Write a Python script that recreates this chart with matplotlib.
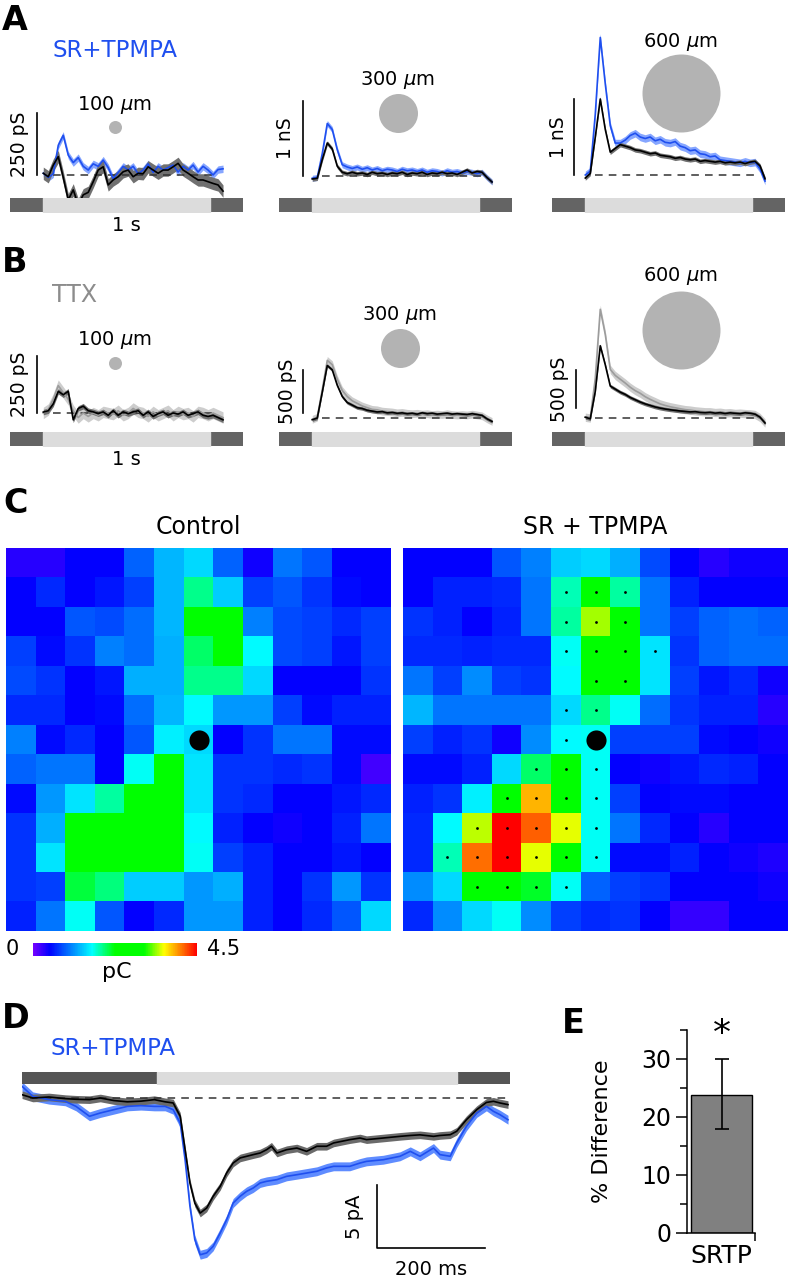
import numpy as np
import matplotlib
matplotlib.use("Agg")
import matplotlib.pyplot as plt
from matplotlib.colors import LinearSegmentedColormap

plt.rcParams["font.family"] = ["DejaVu Sans"]
plt.rcParams["mathtext.fontset"] = "dejavusans"

# ---------------- data ----------------
# conductance traces, sampled every 30 ms from light onset (s)
t_cond = np.arange(0, 1.081, 0.03)

# A: control (black) vs SR+TPMPA (blue)
a100_ctrl = [7, -7, 40, 74, -10, -100, -60, -120, -80, -70, -27, 20, 33, -40, -20,
             -7, 13, 20, -7, 7, 5, 33, 20, 7, 20, 20, 33, 47, 20, 7, -7, -20, -20,
             -27, -34, -40, -65]  # pS
a100_srtp = [7, -10, 5, 120, 160, 80, 50, 70, 35, 20, 45, 35, 60, 30, -15, 10, 35,
             20, 35, 5, 20, 45, 10, 35, 20, 30, 40, 12, 35, 20, 40, 12, 35, 20, 0,
             22, 25]  # pS
a300_ctrl = [-0.04, -0.03, 0.22, 0.44, 0.36, 0.13, 0.05, 0.03, 0.05, 0.03, 0.04,
             0.02, 0.05, 0.03, 0.04, 0.02, 0.04, 0.03, 0.05, 0.02, 0.04, 0.03, 0.05,
             0.02, 0.04, 0.03, 0.05, 0.03, 0.04, 0.02, 0.05, 0.08, 0.04, 0.06, 0.05,
             -0.02, -0.08]  # nS
a300_srtp = [-0.03, -0.02, 0.30, 0.70, 0.62, 0.35, 0.15, 0.12, 0.10, 0.12, 0.09,
             0.11, 0.08, 0.10, 0.07, 0.09, 0.08, 0.06, 0.09, 0.07, 0.08, 0.06, 0.08,
             0.05, 0.07, 0.06, 0.04, 0.07, 0.05, 0.06, 0.04, 0.06, 0.05, 0.03, 0.05,
             -0.02, -0.08]  # nS
a600_ctrl = [-0.04, 0.02, 0.50, 1.00, 0.60, 0.30, 0.35, 0.40, 0.38, 0.36, 0.33,
             0.32, 0.30, 0.28, 0.29, 0.26, 0.25, 0.24, 0.22, 0.23, 0.21, 0.20, 0.21,
             0.18, 0.19, 0.18, 0.17, 0.18, 0.16, 0.17, 0.16, 0.17, 0.15, 0.17, 0.18,
             0.12, -0.05]  # nS
a600_srtp = [0.00, 0.05, 0.80, 1.81, 1.20, 0.65, 0.42, 0.42, 0.46, 0.52, 0.55,
             0.50, 0.48, 0.50, 0.45, 0.47, 0.43, 0.42, 0.44, 0.38, 0.36, 0.32, 0.33,
             0.28, 0.27, 0.24, 0.25, 0.20, 0.19, 0.18, 0.17, 0.16, 0.18, 0.16, 0.17,
             0.08, -0.08]  # nS

# B: control (black) vs TTX (grey), pS
b100_ctrl = [4, 10, 40, 95, 80, 95, -30, 20, 30, 10, 5, -3, 5, -10, 10, -10, 5, -3,
             5, 10, -10, 5, -15, -3, 5, -10, 0, -5, 5, -10, -3, 5, -10, -15, -10,
             -20, -30]
b100_ttx = [0, 15, 60, 120, 90, 60, 10, -20, 0, -15, 0, -10, 5, 0, -5, 10, -10, 0,
            20, 5, 0, -15, 5, -10, 0, 10, -10, 5, -5, 0, -15, 5, 0, -10, 0, -10, -20]
b300_ctrl = [-20, 0, 300, 610, 560, 380, 250, 180, 150, 120, 110, 90, 80, 70, 75,
             60, 65, 55, 60, 50, 55, 45, 60, 50, 55, 45, 50, 55, 45, 50, 45, 40, 50,
             40, 30, -10, -40]
b300_ttx = [-15, 10, 330, 670, 620, 450, 320, 250, 200, 170, 140, 120, 100, 95, 80,
            75, 70, 60, 65, 55, 50, 55, 45, 50, 40, 45, 40, 50, 40, 35, 40, 35, 45,
            35, 25, -10, -40]
b600_ctrl = [10, -10, 350, 950, 700, 420, 380, 340, 310, 270, 240, 210, 185, 165,
             145, 130, 118, 108, 100, 92, 86, 80, 84, 74, 70, 75, 64, 70, 60, 68, 62,
             58, 68, 62, 50, 10, -66]
b600_ttx = [10, 0, 520, 1430, 1100, 640, 560, 510, 460, 405, 360, 325, 280, 245,
            215, 185, 165, 148, 135, 122, 110, 104, 94, 88, 82, 82, 72, 76, 66, 70,
            60, 64, 58, 54, 46, 6, -66]

spot_um = [100, 300, 600]

# C: charge maps (pC), 13 x 13 grid, soma at the centre square
ctrl_map = [
    [0.30, 0.30, 0.45, 0.45, 0.90, 1.30, 1.45, 0.90, 0.40, 1.00, 0.85, 0.45, 0.45],
    [0.45, 0.65, 0.45, 0.55, 0.75, 1.30, 1.90, 1.40, 0.75, 0.85, 0.70, 0.50, 0.45],
    [0.45, 0.45, 0.85, 0.80, 0.95, 1.30, 2.25, 2.40, 1.05, 0.80, 0.75, 0.65, 0.75],
    [0.75, 0.50, 0.70, 1.05, 0.95, 1.25, 2.00, 2.40, 1.60, 0.80, 0.75, 0.55, 0.75],
    [0.80, 0.70, 0.45, 0.55, 1.25, 1.25, 1.90, 1.90, 1.45, 0.45, 0.45, 0.45, 0.70],
    [0.65, 0.65, 0.45, 0.50, 0.95, 1.30, 1.60, 1.15, 1.15, 0.75, 0.50, 0.60, 0.60],
    [1.05, 0.50, 0.65, 0.45, 0.85, 1.55, 1.45, 0.45, 0.70, 1.00, 1.00, 0.50, 0.50],
    [0.90, 1.00, 1.00, 0.45, 1.65, 2.50, 1.50, 0.70, 0.70, 0.65, 0.70, 0.50, 0.20],
    [0.50, 1.15, 1.50, 1.85, 2.50, 2.50, 1.50, 0.70, 0.65, 0.45, 0.45, 0.55, 0.65],
    [0.70, 1.25, 2.40, 2.40, 2.50, 2.50, 1.60, 0.60, 0.45, 0.40, 0.45, 0.60, 1.00],
    [0.70, 1.50, 2.40, 2.40, 2.50, 2.50, 1.65, 0.75, 0.60, 0.45, 0.45, 0.55, 0.45],
    [0.70, 0.75, 2.10, 1.95, 1.40, 1.40, 1.15, 1.25, 0.60, 0.45, 0.70, 1.15, 0.70],
    [0.60, 1.00, 1.65, 0.85, 0.45, 0.65, 1.15, 1.15, 0.60, 0.45, 0.65, 0.85, 1.45],
]
srtp_map = [
    [0.45, 0.45, 0.45, 0.85, 1.05, 1.40, 1.45, 1.25, 0.80, 0.45, 0.30, 0.40, 0.40],
    [0.45, 0.60, 0.60, 0.65, 1.00, 1.80, 2.40, 1.85, 1.00, 0.60, 0.45, 0.45, 0.45],
    [0.70, 0.60, 0.45, 0.60, 1.00, 1.85, 3.40, 2.50, 1.00, 0.75, 0.90, 0.95, 0.90],
    [0.65, 0.65, 0.60, 0.65, 0.65, 1.65, 2.50, 2.50, 1.50, 0.70, 0.90, 0.95, 0.95],
    [1.00, 0.75, 1.10, 0.75, 0.70, 1.60, 2.50, 2.50, 1.50, 0.75, 0.55, 0.65, 0.40],
    [1.30, 1.00, 1.00, 1.00, 1.00, 1.45, 1.90, 1.65, 0.95, 0.70, 0.60, 0.60, 0.30],
    [0.75, 0.60, 0.70, 0.40, 1.10, 1.60, 1.65, 0.75, 0.75, 0.75, 0.50, 0.45, 0.40],
    [0.50, 0.50, 0.60, 1.45, 2.00, 2.40, 1.65, 0.45, 0.40, 0.55, 0.65, 0.60, 0.45],
    [0.60, 0.70, 1.55, 2.40, 3.85, 2.40, 1.65, 0.75, 0.45, 0.50, 0.50, 0.45, 0.45],
    [0.65, 1.60, 3.45, 4.50, 4.15, 3.55, 1.65, 1.00, 0.65, 0.45, 0.30, 0.45, 0.45],
    [0.65, 1.80, 4.10, 4.50, 3.55, 2.40, 1.65, 0.50, 0.50, 0.60, 0.45, 0.40, 0.35],
    [1.10, 1.45, 2.40, 2.40, 2.15, 1.65, 0.90, 0.75, 0.70, 0.45, 0.45, 0.45, 0.40],
    [0.65, 1.10, 1.45, 1.65, 1.10, 0.75, 0.65, 0.70, 0.45, 0.25, 0.25, 0.45, 0.45],
]
# squares significantly different from control (row, col)
sig_rows = [1, 1, 1, 2, 2, 2, 3, 3, 3, 3, 4, 4, 5, 5, 6, 7, 7, 7, 8, 8, 8, 8,
            9, 9, 9, 9, 9, 10, 10, 10, 10, 10, 10, 11, 11, 11, 11]
sig_cols = [5, 6, 7, 5, 6, 7, 5, 6, 7, 8, 6, 7, 5, 6, 5, 4, 5, 6, 3, 4, 5, 6,
            2, 3, 4, 5, 6, 1, 2, 3, 4, 5, 6, 2, 3, 4, 5]
soma = (6, 6)

# D: current traces (pA) vs time from light onset (ms)
d_time = [-250, -230, -200, -170, -150, -125, -105, -80, -55, -30, -5, 15, 30, 43,
          52, 61, 70, 80, 92, 104, 117, 129, 141, 154, 166, 178, 191, 203, 212, 222,
          240, 259, 277, 296, 314, 327, 357, 376, 388, 419, 450, 469, 487, 512, 524,
          543, 555, 573, 592, 610, 623, 635, 650]
d_ctrl = [0.26, 0.0, 0.08, -0.05, -0.1, -0.13, 0.0, -0.2, -0.3, -0.25, -0.13, -0.3,
          -0.39, -1.44, -4.07, -6.7, -8.27, -9.06, -8.66, -7.74, -6.96, -5.9, -5.12,
          -4.72, -4.59, -4.46, -4.33, -4.07, -3.8, -4.33, -4.07, -3.94, -4.2, -3.8,
          -3.8, -3.54, -3.28, -3.15, -3.28, -3.15, -3.02, -2.95, -2.9, -3.02, -2.95,
          -2.89, -2.62, -1.71, -0.92, -0.35, -0.26, -0.39, -0.52]
d_srtp = [0.92, 0.13, -0.13, -0.26, -0.66, -1.44, -1.18, -0.92, -0.66, -0.6, -0.66,
          -0.66, -0.92, -1.97, -4.86, -8.53, -11.15, -12.34, -12.2, -11.68, -10.63,
          -9.58, -8.27, -7.74, -7.35, -7.09, -6.69, -6.56, -6.5, -6.43, -6.17, -6.04,
          -5.91, -5.77, -5.51, -5.38, -5.38, -5.12, -4.99, -4.86, -4.59, -4.2, -4.59,
          -3.94, -4.46, -4.59, -3.54, -2.23, -1.18, -0.66, -1.05, -1.31, -1.71]
d_light = (0, 555)

# E: % difference
e_labels = ["SRTP"]
e_mean = [23.8]
e_err_lo = [5.8]
e_err_hi = [6.2]

# ---------------- styles ----------------
BLUE = "#1f4fef"
BLUE_BAND = "#86a6ff"
BLACK_BAND = "#707070"
TTX = "#9c9c9c"
TTX_BAND = "#cdcdcd"
DARK = "#646464"
LIGHT = "#dcdcdc"
SPOT = "#b3b3b3"

W, H = 790, 1280
fig = plt.figure(figsize=(W / 100, H / 100), dpi=100)


def px_axes(left, top, right, bottom):
    return fig.add_axes([left / W, 1 - bottom / H, (right - left) / W, (bottom - top) / H])


def ftext(x, y, s, **kw):
    fig.text(x / W, 1 - y / H, s, **kw)


def cond_panel(left, top, bar_top, base, ppu, traces, scale, scale_lbl, sb_y0,
               spot, spot_xy, txt_y, sb_x, lbl_x, one_s=None):
    right = left + 233
    ax = px_axes(left, top, right, bar_top)
    ax.set_xlim(-0.2, 1.2)
    ax.set_ylim(-(bar_top - base) / ppu, (base - top) / ppu)
    ax.axis("off")
    ax.plot([0.06, 1.02], [0, 0], color="#333333", lw=1.1, dashes=(5, 4))
    for y, sem, col, band in traces:
        y = np.asarray(y, dtype=float)
        ax.fill_between(t_cond, y - sem, y + sem, color=band, lw=0, clip_on=False)
        ax.plot(t_cond, y, color=col, lw=1.2, clip_on=False)
    ax.plot([sb_x, sb_x], [sb_y0, sb_y0 + scale], color="k", lw=1.2, clip_on=False)
    ax.text(lbl_x, sb_y0 + scale / 2, scale_lbl, rotation=90, ha="center",
            va="center", fontsize=13.5)
    d_pt = spot * 0.13 * 0.72
    ax.scatter([spot_xy[0]], [spot_xy[1]], s=d_pt ** 2, color=SPOT, lw=0,
               clip_on=False, zorder=0)
    ax.text(spot_xy[0], txt_y, f"{spot} $\\mu$m", ha="center", va="center",
            fontsize=14)
    bar = px_axes(left, bar_top, right, bar_top + 14)
    bar.set_xlim(-0.2, 1.2)
    bar.set_ylim(0, 1)
    bar.axis("off")
    bar.broken_barh([(-0.2, 0.2), (1.0, 0.2)], (0, 1), color=DARK)
    bar.broken_barh([(0, 1.0)], (0, 1), color=LIGHT)
    if one_s is not None:
        bar.text(0.5, -0.93, "1 s", ha="center", va="center", fontsize=14)


# ---------------- A ----------------
cond_panel(10, 15, 198, 175, 0.248,
           [(a100_srtp, 15, BLUE, BLUE_BAND), (a100_ctrl, 25, "k", BLACK_BAND)],
           250, "250 pS", 0, spot_um[0], (0.431, 194), 282, -0.038, -0.14, one_s=True)
cond_panel(279, 15, 198, 176, 75,
           [(a300_srtp, 0.04, BLUE, BLUE_BAND), (a300_ctrl, 0.03, "k", BLACK_BAND)],
           1, "1 nS", 0, spot_um[1], (0.515, 0.84), 1.28, -0.056, -0.158)
cond_panel(552, 15, 198, 175, 76,
           [(a600_srtp, 0.05, BLUE, BLUE_BAND), (a600_ctrl, 0.03, "k", BLACK_BAND)],
           1, "1 nS", 0, spot_um[2], (0.575, 1.08), 1.75, -0.068, -0.158)

# ---------------- B ----------------
cond_panel(10, 255, 432, 413, 0.228,
           [(b100_ttx, 25, TTX, TTX_BAND), (b100_ctrl, 12, "k", BLACK_BAND)],
           250, "250 pS", 0, spot_um[0], (0.431, 219), 320, -0.038, -0.14, one_s=True)
cond_panel(279, 255, 432, 418, 0.086,
           [(b300_ttx, 45, TTX, TTX_BAND), (b300_ctrl, 20, "k", BLACK_BAND)],
           500, "500 pS", 58, spot_um[1], (0.527, 814), 1198, -0.056, -0.146)
cond_panel(552, 255, 432, 418, 0.076,
           [(b600_ttx, 55, TTX, TTX_BAND), (b600_ctrl, 25, "k", BLACK_BAND)],
           500, "500 pS", 131, spot_um[2], (0.575, 1158), 1868, -0.056, -0.152)

# ---------------- C ----------------
cmap = LinearSegmentedColormap.from_list(
    "pc", [(0, "#7400ff"), (0.1, "#0000ff"), (0.36, "#00ffff"), (0.5, "#00ff00"),
           (0.68, "#00ff00"), (0.8, "#ffff00"), (0.9, "#ff8000"), (1.0, "#ff0000")])

for left, data, title, dots in [(6, ctrl_map, "Control", False),
                                (403, srtp_map, "SR + TPMPA", True)]:
    ax = px_axes(left, 548, left + 385, 931)
    im = ax.imshow(np.array(data), cmap=cmap, vmin=0, vmax=4.5,
                   interpolation="nearest", aspect="auto")
    ax.axis("off")
    if dots:
        ax.scatter(sig_cols, sig_rows, s=4, color="k", lw=0)
    ax.scatter([soma[1]], [soma[0]], s=210, color="k", lw=0)
    ftext(left + 192, 534, title, ha="center", va="baseline", fontsize=17)

cax = px_axes(33, 943, 197, 956)
cb = fig.colorbar(im, cax=cax, orientation="horizontal")
cb.set_ticks([])
cb.outline.set_visible(False)
ftext(12, 949, "0", ha="center", va="center", fontsize=15)
ftext(207, 949, "4.5", ha="left", va="center", fontsize=15)
ftext(117, 972, "pC", ha="center", va="center", fontsize=16)

# ---------------- D ----------------
x0_ms = -250
ms_px = 0.54
d_right = x0_ms + (510 - 22) / ms_px
axd = px_axes(22, 1060, 510, 1275)
axd.set_xlim(x0_ms, d_right)
axd.set_ylim(-(1275 - 1098) / 12.7, (1098 - 1060) / 12.7)
axd.axis("off")
axd.plot([-235, 650], [0, 0], color="#333333", lw=1.1, dashes=(5, 4))
for y, sem, col, band in [(d_srtp, 0.35, BLUE, "#5f8cff"), (d_ctrl, 0.3, "k", "#6a6a6a")]:
    y = np.asarray(y)
    axd.fill_between(d_time, y - sem, y + sem, color=band, lw=0)
    axd.plot(d_time, y, color=col, lw=1.2)
axd.plot([407, 407, 607], [-6.85, -11.85, -11.85], color="k", lw=1.2, clip_on=False)
axd.text(365, -9.35, "5 pA", rotation=90, ha="center", va="center", fontsize=14)
axd.text(507, -13.5, "200 ms", ha="center", va="center", fontsize=14)

bard = px_axes(22, 1072, 510, 1084)
bard.set_xlim(x0_ms, d_right)
bard.set_ylim(0, 1)
bard.axis("off")
bard.broken_barh([(x0_ms, d_light[0] - x0_ms), (d_light[1], d_right - d_light[1])],
                 (0, 1), color="#555555")
bard.broken_barh([(d_light[0], d_light[1] - d_light[0])], (0, 1), color=LIGHT)

# ---------------- E ----------------
axe = px_axes(687, 1030, 755, 1233)
axe.bar([0], e_mean, width=0.9, color="#808080", edgecolor="k", lw=1)
axe.errorbar([0], e_mean, yerr=[e_err_lo, e_err_hi], color="k", capsize=5,
             lw=1.2, capthick=1.2)
axe.text(0, 31.3, "*", ha="center", va="bottom", fontsize=26)
axe.set_xlim(-0.51, 0.495)
axe.set_ylim(0, 35)
axe.set_yticks([0, 10, 20, 30])
axe.set_yticks([5, 15, 25, 35], minor=True)
axe.set_xticks([0])
axe.set_xticklabels(e_labels, fontsize=18)
axe.set_xticks([0.495], minor=True)
axe.tick_params(axis="y", which="major", length=8, width=1.1, labelsize=17, pad=3)
axe.tick_params(axis="y", which="minor", length=5, width=1.1)
axe.tick_params(axis="x", which="major", length=0, pad=8)
axe.tick_params(axis="x", which="minor", length=6, width=1.1)
for s in ["top", "right"]:
    axe.spines[s].set_visible(False)
for s in ["left", "bottom"]:
    axe.spines[s].set_linewidth(1.1)
axe.set_ylabel("% Difference", fontsize=16)
axe.yaxis.set_label_coords(-1.10, 0.5)

# ---------------- labels ----------------
for letter, x, y in [("A", 2, 30), ("B", 2, 272), ("C", 3, 513), ("D", 2, 1028),
                     ("E", 562, 1033)]:
    ftext(x, y, letter, fontsize=24, fontweight="bold", va="baseline")
ftext(52, 57, "SR+TPMPA", color=BLUE, fontsize=16.5, va="baseline")
ftext(52, 302, "TTX", color="#8c8c8c", fontsize=17, va="baseline")
ftext(50, 1055, "SR+TPMPA", color=BLUE, fontsize=16.5, va="baseline")

fig.savefig("out.png", dpi=100)
